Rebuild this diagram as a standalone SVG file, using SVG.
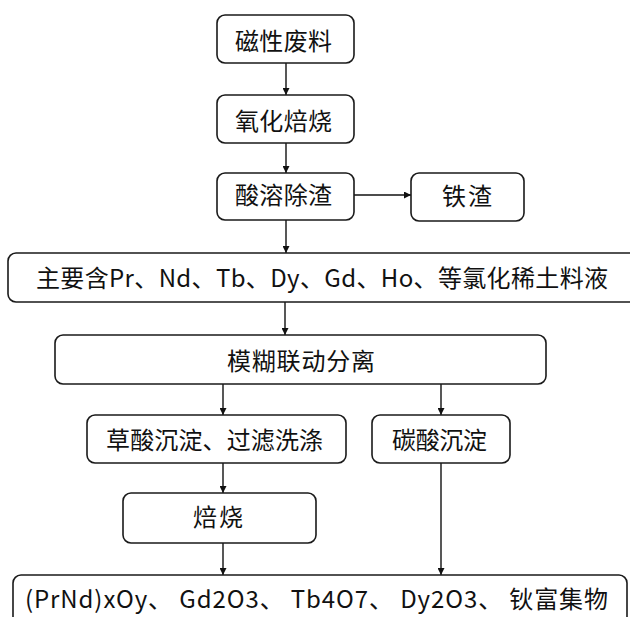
<svg xmlns="http://www.w3.org/2000/svg" width="630" height="617" viewBox="0 0 630 617">
<defs>
<style>
.box{fill:#fff;stroke:#1a1a1a;stroke-width:1.6}
.t{font-family:"Microsoft YaHei","Noto Sans CJK SC","Noto Sans",sans-serif;font-size:24px;fill:#111}
.c{fill:none;stroke:#111;stroke-width:1.4}
</style>
<marker id="ah" viewBox="0 0 10 10" refX="10" refY="5" markerWidth="7" markerHeight="7" markerUnits="userSpaceOnUse" orient="auto">
<path d="M0,0 L10,5 L0,10 z" fill="#111"/>
</marker>
</defs>
<rect width="630" height="617" fill="#fff"/>
<g id="connectors">
<line class="c" x1="286" y1="63" x2="286" y2="95" marker-end="url(#ah)"/>
<line class="c" x1="286" y1="143" x2="286" y2="173" marker-end="url(#ah)"/>
<line class="c" x1="354" y1="195" x2="411" y2="195" marker-end="url(#ah)"/>
<line class="c" x1="286" y1="220" x2="286" y2="253" marker-end="url(#ah)"/>
<line class="c" x1="285" y1="302" x2="285" y2="335" marker-end="url(#ah)"/>
<line class="c" x1="223" y1="384" x2="223" y2="415" marker-end="url(#ah)"/>
<line class="c" x1="441" y1="384" x2="441" y2="415" marker-end="url(#ah)"/>
<line class="c" x1="223" y1="463" x2="223" y2="493" marker-end="url(#ah)"/>
<line class="c" x1="223" y1="543" x2="223" y2="575" marker-end="url(#ah)"/>
<line class="c" x1="441" y1="463" x2="441" y2="575" marker-end="url(#ah)"/>
</g>
<g id="n1"><rect class="box" x="217" y="15" width="137" height="48" rx="8"/><text class="t" x="235" y="50" textLength="97">磁性废料</text></g>
<g id="n2"><rect class="box" x="217" y="95" width="137" height="48" rx="8"/><text class="t" x="235" y="130" textLength="97">氧化焙烧</text></g>
<g id="n3"><rect class="box" x="217" y="173" width="137" height="47" rx="8"/><text class="t" x="235" y="204" textLength="97">酸溶除渣</text></g>
<g id="n4"><rect class="box" x="411" y="173" width="113" height="48" rx="8"/><text class="t" x="442" y="205" textLength="50">铁渣</text></g>
<g id="n5"><rect class="box" x="8" y="253" width="630" height="49" rx="8"/><text class="t" x="36" y="287" textLength="572">主要含Pr、Nd、Tb、Dy、Gd、Ho、等氯化稀土料液</text></g>
<g id="n6"><rect class="box" x="55" y="335" width="491" height="49" rx="8"/><text class="t" x="227" y="370" textLength="148">模糊联动分离</text></g>
<g id="n7"><rect class="box" x="87" y="415" width="259" height="48" rx="8"/><text class="t" x="106" y="449" textLength="217">草酸沉淀、过滤洗涤</text></g>
<g id="n8"><rect class="box" x="372" y="415" width="138" height="48" rx="8"/><text class="t" x="392" y="449" textLength="95">碳酸沉淀</text></g>
<g id="n9"><rect class="box" x="123" y="493" width="193" height="50" rx="8"/><text class="t" x="193" y="526" textLength="50">焙烧</text></g>
<g id="n10"><rect class="box" x="13" y="575" width="614" height="60" rx="8"/><text class="t" x="25" y="608" textLength="583">(PrNd)xOy、 Gd2O3、 Tb4O7、 Dy2O3、 钬富集物</text></g>
</svg>
